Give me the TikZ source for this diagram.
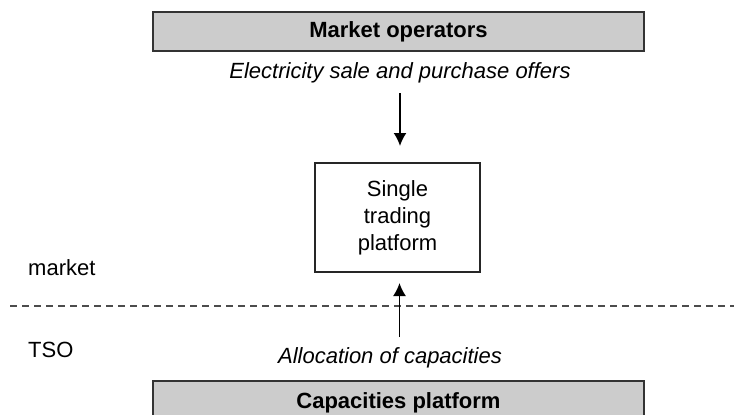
\documentclass[tikz,border=0pt]{standalone}
\usepackage{fontspec}
\setmainfont{Liberation Sans}
\usetikzlibrary{arrows.meta}
\tikzset{
  base/.style={font=\fontsize{22}{27}\selectfont},
  graybox/.style={base, draw=black!80, line width=2pt, fill=black!20,
    font=\fontsize{22}{27}\selectfont\bfseries, inner sep=0pt},
  platbox/.style={base, draw=black!85, line width=2pt, fill=white,
    align=center, inner sep=0pt},
  note/.style={base, font=\fontsize{22}{27}\selectfont\itshape, inner sep=0pt},
  side/.style={base, inner sep=0pt, anchor=west},
  flow/.style={draw=black, line width=1.8pt, -{Latex[length=13pt,width=13pt]}},
  split/.style={draw=black!70, line width=1.8pt, dash pattern=on 7pt off 5pt}
}
\begin{document}
\begin{tikzpicture}[x=1pt,y=-1pt]
  \path[use as bounding box] (0,0) rectangle (734,415);
  \clip (0,0) rectangle (734,415);

  % market / TSO separation
  \coordinate (dl) at (10,306);
  \coordinate (dr) at (740,306);
  \draw[split] (dl) -- (dr);

  \node[side] (mk) at (28,268) {market};
  \node[side] (tso) at (28,350) {TSO};

  % boxes
  \node[graybox, minimum width=491pt, minimum height=39pt] (mo) at (398.5,31.5) {Market operators};
  \node[note] (offers) at (400,73) {Electricity sale and purchase offers};

  \node[platbox, minimum width=165pt, minimum height=109pt] (stp) at (397.5,217.5)
    {Single\\trading\\platform};

  \node[note] (alloc) at (390,358) {Allocation of capacities};
  \node[graybox, minimum width=491pt, minimum height=44pt] (cp) at (398.5,403) {Capacities platform};

  % flows
  \draw[flow, shorten <=10pt, shorten >=16pt] (offers.south) -- (offers.south |- stp.north);
  \draw[flow, shorten <=10.5pt, shorten >=10pt]
    ([xshift=9.5pt]alloc.north) -- ([xshift=9.5pt]alloc.north |- stp.south);
\end{tikzpicture}
\end{document}
